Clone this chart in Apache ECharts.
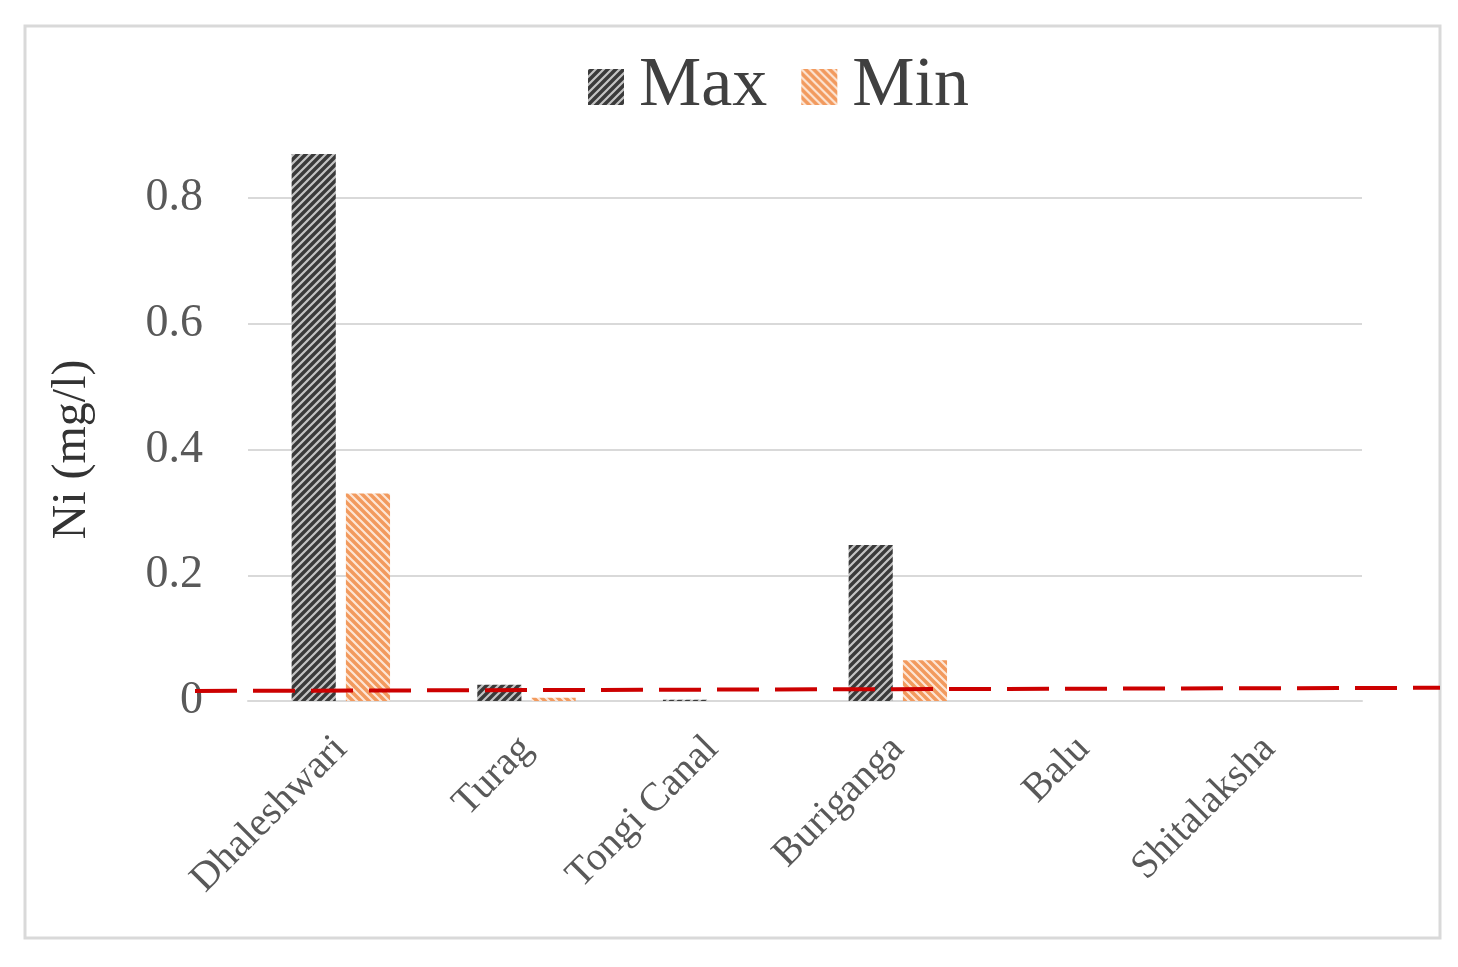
<!DOCTYPE html>
<html>
<head>
<meta charset="utf-8">
<script src="https://cdn.jsdelivr.net/npm/echarts@6/dist/echarts.min.js"></script>
<style>
  html, body { margin: 0; padding: 0; background: #fff; }
  #chart { width: 1458px; height: 967px; }
</style>
</head>
<body>
<div id="chart"></div>
<script>
// data
const categories = ['Dhaleshwari', 'Turag', 'Tongi Canal', 'Buriganga', 'Balu', 'Shitalaksha'];
const maxValues = [0.87, 0.026, 0.002, 0.248, 0, 0];
const minValues = [0.33, 0.005, 0, 0.065, 0, 0];
// dashed red reference line (left end, right end)
const refLine = [0.016, 0.021];

const serif = '"Liberation Serif", "DejaVu Serif", serif';

// hatch fill for the bars
function hatch(bg, stripe, dir) {
  const c = document.createElement('canvas');
  const s = 8;
  c.width = s; c.height = s;
  const ctx = c.getContext('2d');
  ctx.fillStyle = bg;
  ctx.fillRect(0, 0, s, s);
  ctx.strokeStyle = stripe;
  ctx.lineWidth = 2.2;
  ctx.beginPath();
  if (dir === '/') {
    ctx.moveTo(-2, s + 2); ctx.lineTo(s + 2, -2);
    ctx.moveTo(-2, 2); ctx.lineTo(2, -2);
    ctx.moveTo(s - 2, s + 2); ctx.lineTo(s + 2, s - 2);
  } else {
    ctx.moveTo(-2, -2); ctx.lineTo(s + 2, s + 2);
    ctx.moveTo(s - 2, -2); ctx.lineTo(s + 2, 2);
    ctx.moveTo(-2, s - 2); ctx.lineTo(2, s + 2);
  }
  ctx.stroke();
  return c;
}

const chart = echarts.init(document.getElementById('chart'));

const option = {
  backgroundColor: '#fff',
  animation: false,
  graphic: [{
    type: 'rect',
    shape: { x: 25, y: 26, width: 1415, height: 912 },
    style: { fill: 'none', stroke: '#d9d9d9', lineWidth: 3 },
    z: -1
  }],
  legend: {
    data: ['Max', 'Min'],
    icon: 'rect',
    left: 583,
    top: 47,
    itemWidth: 36,
    itemHeight: 36,
    itemGap: 34,
    textStyle: {
      fontFamily: serif,
      fontSize: 70,
      color: '#404040',
      padding: [0, 0, 0, 10]
    }
  },
  grid: [
    { left: 248, right: 96, top: 198, bottom: 266 },
    { left: 195, right: 18, top: 198, bottom: 266 }
  ],
  xAxis: [{
    type: 'category',
    gridIndex: 0,
    data: categories,
    axisLine: { lineStyle: { color: '#d9d9d9', width: 2 } },
    axisTick: { show: false },
    axisLabel: {
      rotate: 45,
      margin: 42,
      fontFamily: serif,
      fontSize: 40,
      color: '#595959',
      interval: 0
    }
  }, {
    type: 'value',
    gridIndex: 1,
    min: 0,
    max: 1,
    show: false
  }],
  yAxis: [{
    type: 'value',
    gridIndex: 0,
    min: 0,
    max: 0.8,
    interval: 0.2,
    name: 'Ni (mg/l)',
    nameLocation: 'middle',
    nameGap: 152,
    nameTextStyle: { fontFamily: serif, fontSize: 48, color: '#333' },
    axisLine: { show: false },
    axisTick: { show: false },
    splitLine: { lineStyle: { color: '#d9d9d9', width: 2 } },
    axisLabel: {
      margin: 45,
      fontFamily: serif,
      fontSize: 46,
      color: '#595959',
      formatter: v => (v === 0 ? '0' : v.toFixed(1))
    }
  }, {
    type: 'value',
    gridIndex: 1,
    min: 0,
    max: 0.8,
    show: false
  }],
  series: [{
    name: 'Max',
    type: 'bar',
    data: maxValues,
    clip: false,
    barGap: '23%',
    barCategoryGap: '47%',
    itemStyle: {
      color: { image: hatch('#3a3a3a', '#c4c4c4', '/'), repeat: 'repeat' },
      borderWidth: 0
    }
  }, {
    name: 'Min',
    type: 'bar',
    data: minValues,
    clip: false,
    itemStyle: {
      color: { image: hatch('#f29a5e', '#fde6d6', '\\'), repeat: 'repeat' },
      borderWidth: 0
    }
  }, {
    name: 'ref',
    type: 'line',
    xAxisIndex: 1,
    yAxisIndex: 1,
    data: [[0, refLine[0]], [1, refLine[1]]],
    symbol: 'none',
    silent: true,
    z: 5,
    lineStyle: { color: '#cc0000', width: 4, type: [42, 16] }
  }]
};

chart.setOption(option);
</script>
</body>
</html>
